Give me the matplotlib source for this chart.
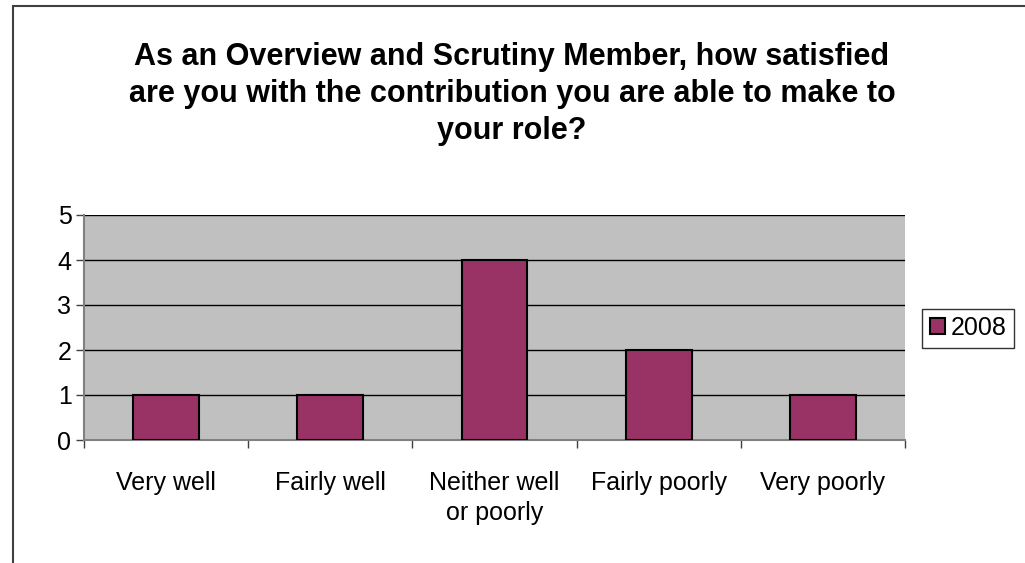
import matplotlib.pyplot as plt
import matplotlib.patches as mpatches
import numpy as np

plt.rcParams['font.family'] = ['Liberation Sans', 'DejaVu Sans']

categories = ["Very well", "Fairly well", "Neither well\nor poorly", "Fairly poorly", "Very poorly"]
values_2008 = [1, 1, 4, 2, 1]
series_name = "2008"
title = ("As an Overview and Scrutiny Member, how satisfied\n"
         "are you with the contribution you are able to make to\n"
         "your role?")

fig = plt.figure(figsize=(10.25, 5.63), dpi=100)
fig.patches.append(mpatches.Rectangle((13 / 1025, -0.1), 1.2, 1 - 6 / 563 + 0.1,
                                      transform=fig.transFigure, fill=False,
                                      edgecolor="#404040", linewidth=1.5))

ax = fig.add_axes([84 / 1025, 1 - 440 / 563, (905 - 84) / 1025, (440 - 215) / 563])
ax.set_facecolor("#C0C0C0")
x = np.arange(len(categories))
ax.bar(x, values_2008, width=0.4, color="#993366", edgecolor="black", linewidth=1.5,
       label=series_name, zorder=3)
ax.set_xlim(-0.5, len(categories) - 0.5)
ax.set_ylim(0, 5)
ax.set_yticks(range(6))
ax.yaxis.grid(True, color="black", linewidth=1, zorder=1)
ax.set_axisbelow(True)

ax.set_xticks(np.arange(len(categories) + 1) - 0.5)
ax.set_xticklabels([])
ax.set_xticks(x, minor=True)
ax.set_xticklabels(categories, minor=True, fontsize=18, linespacing=1.35)
ax.tick_params(axis="x", which="minor", length=0, pad=22)
ax.tick_params(axis="x", which="major", length=6, width=1, color="#404040", direction="out")
ax.tick_params(axis="y", length=6, width=1, color="#404040", direction="out", labelsize=18, pad=3)

for side in ("left", "bottom"):
    ax.spines[side].set_color("#808080")
    ax.spines[side].set_linewidth(1.5)
for side in ("right", "top"):
    ax.spines[side].set_visible(False)

fig.text(512 / 1025, 1 - 94 / 563, title, ha="center", va="center",
         fontsize=22, fontweight="bold", linespacing=1.3)

leg = fig.legend(loc="center left", bbox_to_anchor=(922 / 1025, 1 - 328 / 563),
                 fontsize=18, frameon=True, fancybox=False, handlelength=0.6,
                 handleheight=0.6, handletextpad=0.25, borderpad=0.3, borderaxespad=0)
leg.get_frame().set_edgecolor("black")
leg.get_frame().set_linewidth(1)

fig.savefig("out.png", dpi=100)
